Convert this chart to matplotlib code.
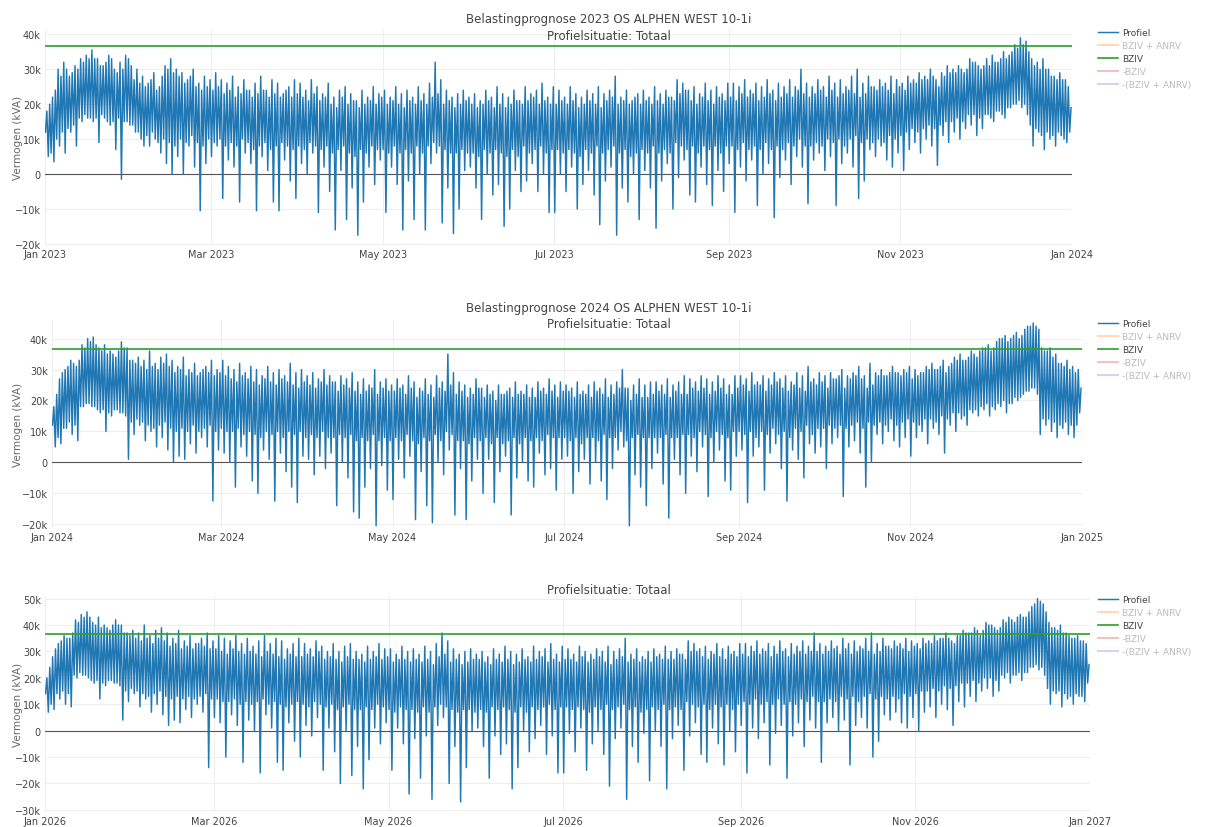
import pandas as pd
import matplotlib.pyplot as plt
import matplotlib.dates as mdates
from matplotlib.ticker import MultipleLocator, FuncFormatter

# Profiel per dag (kVA / 1000): dagpiek en dagdal
piek_2023 = [
    18, 20, 22, 24, 30, 28, 32, 30, 28, 29, 31, 30, 33, 32, 34, 33, 35.5, 33, 33, 31, 31, 32, 34, 33, 30, 29, 32, 30, 34, 33, 31,
    27, 30, 26, 28, 25, 26, 27, 29, 24, 25, 28, 31, 30, 33, 29, 30, 28, 29, 26, 27, 28, 30, 25, 26, 24, 28, 25, 27,
    24, 29, 25, 27, 23, 26, 24, 28, 22, 25, 23, 27, 24, 24, 22, 26, 23, 28, 24, 24, 22, 27, 23, 26, 22, 23, 24, 25, 22, 27, 23,
    26, 22, 24, 21, 27, 23, 25, 21, 23, 22, 26, 20, 22, 19, 24, 22, 25, 20, 23, 21, 21, 19, 24, 20, 22, 21, 25, 20, 23, 22,
    24, 20, 22, 21, 25, 20, 23, 19, 24, 21, 22, 20, 25, 21, 23, 20, 26, 22, 32, 23, 27, 20, 24, 21, 22, 19, 23, 20, 24, 21, 22,
    20, 23, 19, 21, 20, 24, 21, 22, 19, 25, 20, 23, 19, 22, 20, 24, 21, 21, 20, 25, 21, 23, 22, 24, 20, 26, 21, 22, 20, 25,
    20, 24, 21, 22, 20, 25, 21, 23, 19, 22, 20, 24, 21, 23, 20, 25, 19, 23, 21, 24, 22, 28, 20, 22, 21, 24, 20, 21, 22, 23, 20,
    24, 21, 22, 20, 25, 21, 23, 20, 24, 22, 22, 21, 27, 23, 26, 24, 24, 21, 25, 20, 23, 22, 26, 21, 24, 20, 25, 22, 23, 21, 26,
    22, 26, 21, 25, 23, 27, 22, 24, 23, 26, 21, 25, 22, 27, 23, 24, 21, 26, 22, 25, 23, 27, 22, 25, 24, 30, 23, 26, 22, 25,
    23, 27, 24, 25, 22, 28, 24, 26, 22, 27, 23, 25, 24, 28, 23, 30, 22, 26, 23, 28, 25, 25, 24, 27, 25, 26, 24, 28, 23, 27, 25,
    26, 24, 28, 26, 27, 26, 29, 27, 28, 27, 30, 28, 27, 25, 29, 28, 31, 29, 30, 29, 31, 30, 29, 30, 33, 32, 32, 31, 30, 31,
    33, 31, 34, 32, 32, 33, 35, 33, 34, 35, 37, 36, 39, 37, 38, 35, 33, 31, 32, 30, 33, 30, 30, 28, 28, 27, 29, 27, 27, 25, 19,
]
dal_2023 = [
    12, 5, 6, 3.5, 10, 8, 12, 6, 13, 12, 14, 8, 16, 15, 17, 16, 16, 15, 16, 9, 17, 16, 15, 14, 15, 7, 16, -1.5, 15, 15, 14,
    14, 12, 12, 10, 8, 11, 8, 12, 10, 9, 6, 10, 3, 9, 0, 8, 5, 10, 0, 9, 8, 11, 2, 9, -10.5, 8, 3, 10,
    5, 9, 8, 10, -7, 8, 4, 9, 2, 8, -8, 10, 6, 9, 3, 7, -10.5, 8, 5, 9, 1, 7, -8, 8, -10.5, 9, 4, 8, -2, 7, -7,
    8, 3, 7, 0, 9, 6, 8, -11, 7, 2, 8, -5, 6, -16, 7, 1, 8, -13, 6, -4, 5, -17.5, 7, -8, 6, 2, 8, -3, 7, 4,
    7, -11, 6, 2, 8, -3, 6, -16, 7, -2, 6, -13, 8, 0, 6, -16, 8, 3, 9, 6, 8, -14, 7, -4, 6, -17, 6, -10, 7, 1, 6,
    2, 6, -4, 5, -13, 7, 0, 6, -6, 7, -3, 6, -15, 5, -10, 7, 1, 5, -5, 8, -2, 6, 3, 7, -5, 8, 0, 6, -11, 7,
    -11, 7, 0, 6, -5, 7, 2, 6, -10, 5, -3, 7, 1, 6, -6, 8, -14.5, 6, -2, 7, 2, 8, -17.5, 6, -4, 7, -8, 5, 0, 6, -13,
    7, 1, 6, -4, 8, -15.5, 6, -2, 7, 3, 6, -10, 9, -1, 8, 4, 7, -6, 8, -8, 6, 2, 8, -3, 7, -9, 8, 1, 6, -5, 8,
    3, 8, -11, 7, 2, 9, -2, 7, 4, 8, -9, 7, 0, 9, 3, 7, -12.5, 8, -1, 7, 4, 9, -3, 8, 5, 10, 2, 8, -8.5, 8,
    4, 9, 6, 8, 1, 10, 5, 9, -9, 10, 3, 8, 6, 10, 2, 11, -7, 9, -2, 10, 7, 9, 5, 10, 8, 9, 4, 11, 2, 10, 6,
    11, 1, 12, 7, 13, 9, 12, 6, 13, 10, 14, 8, 13, 2.5, 14, 11, 15, 9, 15, 12, 16, 10, 15, 13, 17, 14, 17, 11, 16, 13,
    17, 17, 16, 15, 18, 18, 17, 16, 19, 19, 20, 20, 21, 19, 20, 17, 14, 8, 13, 12, 11, 7, 12, 10, 11, 8, 12, 11, 10, 9, 12,
]

piek_2024 = [
    18, 22, 27, 29, 30, 31, 33, 32, 31, 33, 38, 37, 40, 39, 40.5, 38, 37, 36, 38, 35, 36, 35, 34, 36, 39, 37, 37, 33, 33, 32, 34,
    31, 33, 30, 36, 31, 32, 30, 34, 32, 35, 31, 33, 29, 31, 30, 34, 28, 30, 29, 32, 28, 29, 30, 31, 29, 33, 28, 30, 29,
    33, 28, 31, 27, 30, 26, 32, 28, 29, 27, 31, 26, 30, 25, 28, 27, 31, 26, 29, 25, 30, 27, 28, 26, 32, 25, 29, 24, 30, 26, 28,
    25, 29, 24, 27, 26, 30, 25, 28, 26, 26, 23, 28, 25, 27, 24, 29, 23, 26, 22, 27, 23, 25, 24, 30, 22, 26, 24, 27, 23, 25,
    23, 27, 24, 25, 22, 28, 24, 26, 21, 24, 23, 27, 22, 25, 21, 28, 24, 26, 23, 35, 25, 29, 22, 26, 23, 25, 21, 24, 22, 27, 24,
    24, 21, 25, 22, 23, 20, 25, 22, 22, 23, 24, 21, 26, 22, 23, 22, 25, 21, 24, 21, 26, 23, 24, 22, 27, 23, 25, 21, 26, 23,
    25, 23, 24, 21, 26, 22, 23, 22, 25, 21, 26, 23, 24, 22, 27, 21, 25, 22, 26, 24, 30, 24, 24, 20, 25, 22, 27, 21, 25, 21, 26,
    22, 26, 23, 25, 22, 27, 21, 25, 23, 26, 22, 28, 22, 27, 24, 26, 23, 28, 24, 27, 22, 26, 23, 28, 24, 27, 22, 25, 22, 28, 24,
    28, 25, 27, 23, 29, 25, 26, 25, 28, 23, 27, 25, 29, 26, 27, 24, 28, 23, 26, 25, 29, 24, 28, 23, 31, 26, 27, 25, 29, 26,
    28, 24, 29, 27, 27, 28, 30, 24, 28, 27, 29, 28, 31, 27, 28, 24, 32, 25, 29, 28, 30, 28, 28, 29, 31, 29, 29, 28, 30, 29, 31,
    27, 30, 28, 29, 29, 31, 30, 32, 30, 30, 31, 33, 29, 31, 32, 34, 33, 35, 33, 33, 34, 36, 35, 34, 36, 37, 37, 38, 36, 37,
    39, 40, 40, 41, 39, 40, 41, 42, 40, 41, 43, 44, 44, 45, 44, 43, 37, 36, 36, 37, 34, 35, 32, 32, 31, 33, 30, 31, 29, 30, 24,
]
dal_2024 = [
    12, 5, 8, 6, 11, 11, 13, 9, 12, 7, 18, 18, 19, 19, 18, 18, 17, 16, 17, 10, 16, 15, 17, 17, 16, 16, 15, 1, 13, 9, 14,
    12, 13, 7, 12, 10, 11, 5, 12, 8, 13, 4, 11, 0, 10, 2, 11, 1, 10, 6, 12, 3, 10, 8, 11, 5, 12, -12.5, 10, 4,
    11, 3, 10, 0, 10, -8, 11, 5, 9, 2, 10, -6, 9, -10, 8, 4, 10, 1, 9, -12.5, 10, 3, 8, -3, 10, -8, 9, -13, 10, 2, 8,
    1, 9, -4, 8, 2, 10, -2, 8, 3, 8, -14, 9, 0, 8, -5, 9, -16, 7, -18, 8, -8, 7, -2, 9, -20.5, 7, -1, 8, -9, 7,
    -12, 8, 1, 7, -5, 9, 2, 7, -18.5, 6, -3, 8, -14, 7, -19.5, 9, 0, 7, -4, 10, 4, 9, -17, 7, -2, 7, -18.5, 6, -6, 8, 1,
    7, -10, 8, 1, 6, -13, 8, -3, 6, 2, 7, -17, 8, -5, 6, 0, 8, -6, 7, -8, 8, 3, 7, -4, 9, -2, 8, -9, 8, 1,
    8, 2, 7, -10, 8, -3, 6, 1, 8, -7, 8, 0, 7, -6, 9, -12, 8, -2, 8, 4, 10, 5, 7, -20.5, 8, -4, 9, -8, 8, -14, 8,
    -2, 8, 3, 8, -7, 9, -18, 8, 1, 8, -4, 9, -10, 9, 2, 8, -3, 10, 5, 9, -11, 8, 0, 10, 4, 9, -6, 8, -9, 10, 2,
    10, 4, 9, -13, 10, 2, 8, 5, 10, -9, 9, 3, 11, 6, 9, -2, 10, -12.5, 8, 4, 11, 1, 10, -5, 12, 6, 9, 3, 11, 5,
    11, -2, 12, 6, 11, 8, 12, -11, 11, 5, 12, 7, 13, 3, 11, -8, 13, 0, 12, 9, 13, 6, 12, 10, 14, 7, 12, 5, 13, 8, 14,
    2, 13, 8, 12, 10, 14, 6, 14, 11, 13, 9, 15, 3, 14, 12, 16, 10, 16, 14, 15, 12, 17, 16, 17, 15, 18, 17, 19, 15, 18,
    17, 19, 18, 20, 16, 19, 19, 21, 20, 21, 22, 23, 23, 24, 24, 22, 9, 14, 12, 14, 10, 13, 8, 12, 11, 13, 9, 12, 8, 12, 16,
]

piek_2026 = [
    20, 24, 28, 31, 33, 34, 36, 35, 35, 37, 42, 41, 44, 43, 45, 43, 41, 40, 43, 39, 40, 39, 38, 40, 42, 40, 40, 37, 37, 36, 38,
    35, 37, 34, 40, 35, 36, 33, 38, 35, 39, 34, 37, 32, 35, 33, 38, 31, 34, 32, 36, 31, 33, 33, 35, 32, 37, 31, 34,
    31, 36, 30, 35, 29, 34, 31, 36, 30, 33, 29, 35, 30, 32, 29, 34, 28, 36, 30, 33, 29, 35, 28, 34, 27, 31, 29, 33, 28, 35, 28,
    33, 29, 31, 28, 34, 30, 32, 27, 30, 28, 33, 27, 30, 26, 32, 28, 33, 27, 30, 27, 29, 26, 32, 27, 30, 28, 33, 27, 31, 28,
    31, 26, 29, 27, 32, 27, 30, 26, 31, 27, 29, 26, 32, 27, 30, 25, 33, 28, 37, 29, 34, 26, 31, 27, 29, 25, 30, 26, 31, 27, 29,
    27, 30, 26, 28, 25, 31, 27, 29, 26, 32, 27, 30, 25, 29, 26, 31, 27, 28, 26, 32, 27, 30, 28, 31, 26, 33, 27, 29, 26, 32,
    27, 31, 27, 29, 26, 32, 28, 30, 26, 29, 27, 31, 28, 30, 26, 32, 25, 30, 27, 31, 28, 35, 26, 29, 27, 31, 26, 28, 27, 30, 26,
    31, 28, 29, 27, 32, 27, 30, 27, 31, 29, 29, 27, 34, 30, 33, 30, 31, 28, 32, 27, 30, 29, 33, 28, 31, 27, 32, 29, 30, 28, 33,
    29, 33, 28, 32, 30, 34, 29, 31, 30, 33, 28, 32, 29, 34, 30, 31, 28, 33, 29, 32, 30, 34, 29, 32, 30, 37, 30, 33, 29, 32,
    30, 34, 31, 32, 29, 35, 31, 33, 29, 34, 30, 32, 31, 35, 30, 37, 29, 33, 30, 35, 32, 32, 31, 34, 32, 33, 31, 35, 30, 34, 32,
    33, 31, 35, 33, 34, 33, 36, 34, 35, 35, 37, 35, 34, 33, 36, 36, 38, 37, 37, 37, 39, 38, 36, 38, 41, 40, 40, 39, 38, 39,
    42, 41, 43, 42, 41, 43, 44, 43, 43, 45, 47, 48, 50, 49, 48, 45, 41, 39, 39, 38, 40, 37, 37, 36, 35, 35, 36, 34, 34, 33, 25,
]
dal_2026 = [
    14, 7, 10, 8, 14, 12, 15, 10, 14, 9, 21, 20, 22, 21, 21, 20, 19, 18, 19, 12, 18, 17, 19, 19, 18, 18, 17, 4, 15, 11, 16,
    14, 15, 9, 14, 12, 13, 7, 14, 10, 15, 6, 13, 2, 12, 4, 13, 3, 12, 8, 13, 5, 12, 10, 13, 7, 14, -14, 12,
    5, 12, 3, 11, -10, 11, 6, 12, 2, 10, -12, 11, 4, 10, 0, 11, -16, 12, 6, 10, 1, 11, -12, 10, -15, 9, 3, 10, -4, 11, -10,
    10, 2, 9, -2, 11, 5, 10, -15, 9, 1, 10, -8, 8, -20, 9, 0, 10, -17, 8, -6, 8, -22, 9, -11, 8, 1, 10, -5, 9, 3,
    8, -15, 7, 1, 9, -5, 8, -24, 8, -3, 7, -18, 9, -2, 7, -26, 9, 2, 10, 5, 9, -20, 8, -6, 7, -27, 8, -14, 8, 0, 7,
    1, 8, -6, 7, -18, 9, -2, 8, -9, 9, -5, 8, -22, 7, -14, 9, 0, 7, -8, 9, -3, 8, 2, 9, -9, 10, -2, 8, -16, 9,
    -16, 9, -1, 8, -8, 9, 1, 8, -15, 7, -5, 9, 0, 8, -9, 10, -21, 8, -3, 9, 1, 10, -26, 8, -6, 9, -12, 7, -1, 8, -19,
    9, 0, 8, -6, 10, -22, 8, -3, 9, 2, 8, -15, 11, -2, 10, 3, 9, -9, 10, -12, 8, 1, 10, -5, 9, -13, 10, 0, 8, -8, 10,
    2, 11, -16, 10, 1, 12, -3, 10, 3, 11, -13, 10, -1, 12, 2, 10, -18, 11, -2, 10, 3, 12, -6, 11, 4, 13, 1, 11, -12, 11,
    3, 12, 5, 11, 0, 13, 4, 12, -13, 13, 2, 11, 5, 13, 1, 14, -10, 12, -4, 13, 6, 12, 4, 13, 7, 12, 3, 14, 1, 13, 5,
    14, 0, 15, 7, 15, 9, 16, 5, 15, 10, 17, 8, 16, 2, 17, 11, 18, 9, 18, 13, 19, 11, 18, 15, 20, 16, 20, 13, 19, 15,
    21, 20, 22, 18, 21, 21, 22, 19, 22, 22, 24, 24, 25, 23, 24, 21, 16, 10, 15, 14, 15, 9, 14, 12, 13, 10, 14, 13, 13, 11, 18,
]

bziv = 36.5  # kVA / 1000
jaren = [2023, 2024, 2026]
pieken = [piek_2023, piek_2024, piek_2026]
dalen = [dal_2023, dal_2024, dal_2026]
titels = [
    "Belastingprognose 2023 OS ALPHEN WEST 10-1i\nProfielsituatie: Totaal",
    "Belastingprognose 2024 OS ALPHEN WEST 10-1i\nProfielsituatie: Totaal",
    "Profielsituatie: Totaal",
]
legend_labels = ["Profiel", "BZIV + ANRV", "BZIV", "-BZIV", "-(BZIV + ANRV)"]
legend_colors = ["#1f77b4", "#ffbf8f", "#2ca02c", "#e89a9a", "#c4b5dd"]

W, H = 1207, 828
# plotgebieden in pixels: links, boven, rechts, onder
boxes = [(45, 30, 1072, 246), (52, 321, 1082, 529), (45, 597, 1090, 813)]
ylims = [(-20.3, 41.5), (-21.2, 46), (-30.8, 51)]
title_y = [13, 302, 591]

plt.rcParams['font.family'] = ['DejaVu Sans']
fig = plt.figure(figsize=(W / 100, H / 100), dpi=100)


def kfmt(v, pos):
    v = int(round(v))
    if v == 0:
        return "0"
    return f"{v}k".replace("-", "\u2212")


for jaar, piek, dal, box, ylim, titel, ty in zip(jaren, pieken, dalen, boxes, ylims, titels, title_y):
    assert len(piek) == len(dal), (jaar, len(piek), len(dal))
    l, t, r, b = box
    ax = fig.add_axes([l / W, 1 - b / H, (r - l) / W, (b - t) / H])
    dates = pd.date_range(f"{jaar}-01-01", periods=len(piek), freq="D")
    s = pd.concat([pd.Series(dal, index=dates + pd.Timedelta(hours=4)),
                   pd.Series(piek, index=dates + pd.Timedelta(hours=16))]).sort_index()
    ax.plot(s.index, s.values, color="#1f77b4", lw=1.05, zorder=3, label="Profiel")
    handles = [ax.lines[0]]
    for lab, col in zip(legend_labels[1:], legend_colors[1:]):
        if lab == "BZIV":
            h = ax.axhline(bziv, color=col, lw=1.2, zorder=4, label=lab)
        else:
            h, = ax.plot([], [], color=col, lw=1.5, alpha=0.6, label=lab)
        handles.append(h)
    ax.axhline(0, color="#555555", lw=0.8, zorder=2)

    ax.set_xlim(pd.Timestamp(f"{jaar}-01-01"), pd.Timestamp(f"{jaar + 1}-01-01"))
    ax.set_ylim(*ylim)
    ax.yaxis.set_major_locator(MultipleLocator(10))
    ax.yaxis.set_major_formatter(FuncFormatter(kfmt))
    ax.xaxis.set_major_locator(mdates.MonthLocator(bymonth=[1, 3, 5, 7, 9, 11]))
    ax.xaxis.set_major_formatter(mdates.DateFormatter("%b %Y"))
    ax.tick_params(length=0, labelsize=7, colors="#444444", pad=3)
    ax.grid(color="#eeeeee", lw=0.8, zorder=0)
    for sp in ax.spines.values():
        sp.set_visible(False)
    ax.set_ylabel("Vermogen (kVA)", fontsize=7.5, color="#666666")
    ax.yaxis.set_label_coords((23 - l) / (r - l), 0.5)

    fig.text(609 / W, 1 - ty / H, titel, ha="center", va="center" if "\n" not in titel else "top",
             fontsize=8.5, color="#444444", linespacing=1.35)

    leg = ax.legend(handles=handles, loc="upper left", bbox_to_anchor=(1098 / W, 1 - (t - 1) / H),
                    bbox_transform=fig.transFigure, frameon=False, fontsize=6.5,
                    handlelength=2.2, handletextpad=0.5, labelspacing=0.45, borderpad=0, borderaxespad=0)
    for txt, lab in zip(leg.get_texts(), legend_labels):
        txt.set_color("#444444" if lab in ("Profiel", "BZIV") else "#bbbbbb")

fig.savefig("out.png", dpi=100, facecolor="white")
